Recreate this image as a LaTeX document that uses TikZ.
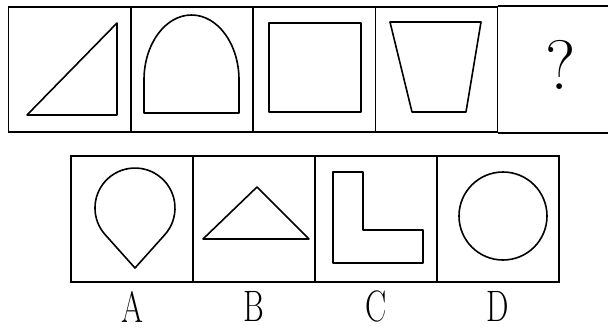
\documentclass[tikz,border=0pt]{standalone}
\usepackage{tikz}
\usetikzlibrary{positioning}
\tikzset{
  cell/.style={draw, line width=1.8pt, minimum width=122pt, minimum height=125pt,
               inner sep=0pt},
  shp/.style={draw, line width=1.6pt, line join=round},
  lab/.style={font=\fontsize{44}{44}\selectfont, inner sep=0pt, xscale=0.72},
}

\begin{document}
\begin{tikzpicture}[x=1pt, y=-1pt]
    \useasboundingbox (0,0) rectangle (608,330);
    % top row
    \node[cell] (t1) at (69.5,69.5) {};
    \node[cell] (t2) at (192,69.5) {};
    \node[cell] (t3) at (314.5,69.5) {};
    \node[cell] (t4) at (436.5,69.5) {};
    \draw[line width=1.8pt] (t4.north east) -- ++(112,0);
    \draw[line width=1.8pt] (t4.south east) -- ++(112,0);
    \node[font=\fontsize{70}{70}\selectfont, inner sep=0pt] (qm) at (561,65) {?};
    \draw[shp] (27,115) -- (117,23) -- (117,115) -- cycle;
    \draw[shp] (144,113) -- (144,80) arc[start angle=180, end angle=0,
      x radius=47.5pt, y radius=65pt] -- (239,113) -- cycle;
    \draw[shp] (269,23) rectangle (361,112);
    \draw[shp] (390,22) -- (481,22) -- (466,112) -- (412,112) -- cycle;
    % answer row
    \node[cell, minimum height=126pt] (b1) at (132,219) {};
    \node[cell, minimum height=126pt] (b2) at (254,219) {};
    \node[cell, minimum height=126pt] (b3) at (376,219) {};
    \node[cell, minimum height=126pt] (b4) at (498,219) {};
    \draw[shp] (135,268) -- (164.8,234.7) arc[start angle=-41.81, end angle=221.81,
      radius=40pt] -- cycle;
    \draw[shp] (257,187) -- (309,239) -- (203,239) -- cycle;
    \draw[shp] (333,172) -- (363,172) -- (363,230) -- (423,230) -- (423,263)
      -- (333,263) -- cycle;
    \draw[shp] (503,216) circle[radius=44pt];
    \node[lab, below=8pt of b1] (la) {A};
    \node[lab, below=8pt of b2] (lb) {B};
    \node[lab, below=8pt of b3] (lc) {C};
    \node[lab, below=8pt of b4] (ld) {D};
  \end{tikzpicture}
\end{document}
